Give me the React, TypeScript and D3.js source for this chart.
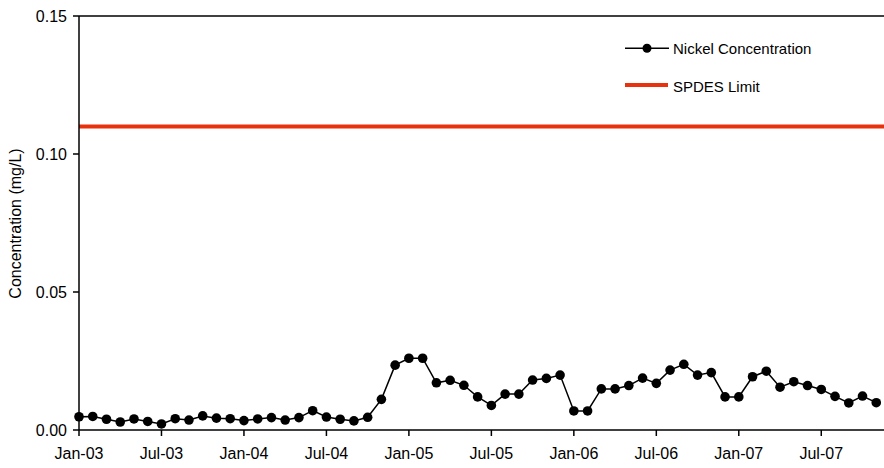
import React from 'react';
import * as d3 from 'd3';

const width = 884;
const height = 468;

// monthly samples, Jan-03 .. Nov-07
const years = ['03', '04', '05', '06', '07'];
const monthNames = ['Jan', 'Feb', 'Mar', 'Apr', 'May', 'Jun', 'Jul', 'Aug', 'Sep', 'Oct', 'Nov', 'Dec'];
const months = years.flatMap(y => monthNames.map(m => `${m}-${y}`)).slice(0, 59);

const nickel = [
    0.0048, 0.0049, 0.0039, 0.0029, 0.0040, 0.0031, 0.0022, 0.0041, 0.0036, 0.0051, 0.0043, 0.0041,
    0.0034, 0.0040, 0.0045, 0.0036, 0.0045, 0.0070, 0.0047, 0.0039, 0.0033, 0.0046, 0.0111, 0.0235,
    0.0260, 0.0260, 0.0171, 0.0180, 0.0162, 0.0120, 0.0089, 0.0130, 0.0130, 0.0181, 0.0187, 0.0199,
    0.0069, 0.0069, 0.0149, 0.0149, 0.0161, 0.0188, 0.0169, 0.0217, 0.0238, 0.0199, 0.0208, 0.0120,
    0.0120, 0.0193, 0.0213, 0.0155, 0.0175, 0.0161, 0.0147, 0.0122, 0.0098, 0.0123, 0.0099
];

const spdesLimit = 0.11;
const yTicks = [0, 0.05, 0.10, 0.15];
const xTickLabels = ['Jan-03', 'Jul-03', 'Jan-04', 'Jul-04', 'Jan-05', 'Jul-05', 'Jan-06', 'Jul-06', 'Jan-07', 'Jul-07'];

const font = 'Arial, "Liberation Sans", sans-serif';
const red = '#e8320e';
const fs = 16;

const App = () => {
    const x = d3.scaleLinear().domain([0, 59]).range([79, 890]);
    const y = d3.scaleLinear().domain([0, 0.15]).range([430, 16]);
    const line = d3.line<number>()
        .x((d, i) => x(i))
        .y(d => y(d));

    return (
        <div style={{position: 'absolute', left: 0, top: 0}}>
            <svg width={width} height={height} style={{display: 'block', background: '#fff'}} fontFamily={font}>
                {/* frame top */}
                <line x1={79} x2={width} y1={y(0.15)} y2={y(0.15)} stroke="#000" strokeWidth={1.5}/>
                {/* limit */}
                <line x1={79} x2={width} y1={y(spdesLimit)} y2={y(spdesLimit)} stroke={red} strokeWidth={4}/>
                {/* y axis */}
                <line x1={79} x2={79} y1={y(0.15)} y2={y(0)} stroke="#000" strokeWidth={1.5}/>
                {yTicks.map(t => (
                    <g key={t}>
                        <line x1={73} x2={79} y1={y(t)} y2={y(t)} stroke="#000" strokeWidth={1.5}/>
                        <text x={67} y={y(t)} dy="0.36em" textAnchor="end" fontSize={fs}>{t.toFixed(2)}</text>
                    </g>
                ))}
                <text transform={`translate(21, ${y(0.075) + 0.5}) rotate(-90)`} textAnchor="middle" fontSize={fs}>
                    Concentration (mg/L)
                </text>
                {/* x axis */}
                <line x1={79} x2={width} y1={y(0)} y2={y(0)} stroke="#000" strokeWidth={1.5}/>
                {xTickLabels.map(lbl => {
                    const i = months.indexOf(lbl);
                    return (
                        <g key={lbl}>
                            <line x1={x(i)} x2={x(i)} y1={y(0)} y2={y(0) + 6} stroke="#000" strokeWidth={1.5}/>
                            <text x={x(i)} y={459} textAnchor="middle" fontSize={fs}>{lbl}</text>
                        </g>
                    );
                })}
                {/* series */}
                <path d={line(nickel) || ''} fill="none" stroke="#000" strokeWidth={1.5}/>
                {nickel.map((d, i) => (
                    <circle key={i} cx={x(i)} cy={y(d)} r={4.8} fill="#000"/>
                ))}
                {/* legend */}
                <line x1={625} x2={669} y1={48.3} y2={48.3} stroke="#000" strokeWidth={1.5}/>
                <circle cx={647} cy={48.3} r={4.5} fill="#000"/>
                <text x={673} y={54.3} fontSize={15}>Nickel Concentration</text>
                <line x1={625} x2={668} y1={85} y2={85} stroke={red} strokeWidth={4}/>
                <text x={673} y={91.7} fontSize={15}>SPDES Limit</text>
            </svg>
        </div>
    );
};

export default App;
